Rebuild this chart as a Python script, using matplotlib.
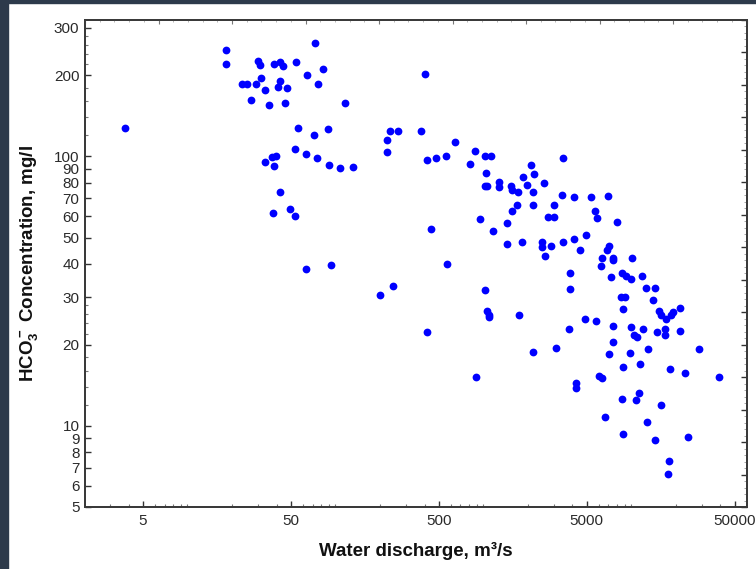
import matplotlib
matplotlib.use("Agg")
import matplotlib.pyplot as plt
from matplotlib.patches import Rectangle
from matplotlib.ticker import FixedLocator, FixedFormatter, NullFormatter

plt.rcParams['font.family'] = ['Liberation Sans', 'DejaVu Sans']
plt.rcParams['mathtext.default'] = 'regular'

# Water discharge (m3/s) and HCO3- concentration (mg/l)
discharge = [
    3.8, 18.2, 18.2, 23.5, 25.2, 29.1, 27.0, 30, 31, 31.5, 33.3, 35.3, 38.5, 42.5, 44.4,
    42.5, 40.8, 46.7, 45.9, 54.2, 64.4, 73.3, 82.2, 76.4, 116, 55.7, 71.8, 88.8, 53.2,
    63.1, 75, 90.2, 107, 132, 33.3, 37.2, 39.5, 38.7, 41.9, 38.1, 49.4, 53.2, 63.1, 93.5,
    403, 232, 263, 224, 224, 379, 418, 478, 556, 647, 875, 809, 1023, 1123, 1048, 1023,
    1062, 1268, 1268, 1531, 1571, 1717, 1857, 1965, 2091, 2191, 2158, 2561, 1690, 2158,
    1563, 2979, 946, 1437, 1157, 2723, 2979, 3390, 4111, 5326, 6940, 3476, 5640, 5878,
    7943, 4955, 4111, 4488, 3457, 2853, 2470, 2470, 2617, 1829, 1452, 565, 443, 246,
    1019, 3855, 3855, 7099, 6838, 6325, 6195, 7510, 7510, 10150, 8590, 9150, 9930, 7250,
    11790, 12480, 14500, 199, 418, 888, 1050, 1085, 1099, 1727, 2149, 3090, 3800, 4195,
    4195, 4875, 5750, 6030, 6350, 6620, 7100, 7510, 7510, 8590, 8770, 8770, 9780, 8770,
    8550, 9100, 9980, 10450, 10960, 11370, 10740, 11190, 12030, 13960, 13040, 12760,
    14500, 14800, 15770, 15270, 15950, 16900, 16900, 17150, 18540, 19130, 18250, 17870,
    17600, 21230, 21230, 22950, 24190, 28730, 38880,
]
hco3 = [
    127, 249, 220, 185, 185, 185, 162, 227, 219, 195, 177, 155, 220, 225, 216,
    191, 181, 179, 158, 225, 201, 263, 211, 186, 158, 127, 120, 126, 107,
    102, 99, 93, 90.3, 91.2, 95, 99.6, 100, 92, 73.5, 61.5, 64, 59.9, 38.3, 39.5,
    203, 124.5, 124.5, 115, 103.5, 124.5, 97.3, 99, 100, 113, 105, 94, 100, 100.5, 86.5, 77.4,
    77.4, 80.7, 77.3, 77.7, 75, 73.5, 84.1, 78.3, 93, 85.8, 74.1, 79.6, 66.2, 66.2,
    63, 66.2, 58.5, 56.6, 52.7, 59.6, 59.6, 71.9, 70.5, 70.5, 71.1, 99, 63, 59,
    57.3, 51.3, 49.5, 45.1, 48.0, 46.4, 48.1, 46.2, 42.8, 48.1, 47.5, 39.8, 53.8, 33.1,
    32.0, 37.0, 32.1, 46.7, 44.8, 42.0, 39.2, 42.0, 41.2, 42.0, 37.0, 36.1, 35.2, 35.6,
    35.9, 32.4, 32.4, 30.5, 22.3, 15.2, 26.7, 25.9, 25.4, 25.7, 18.8, 19.5, 22.9, 14.4,
    13.8, 24.9, 24.5, 15.3, 15.1, 10.8, 18.5, 23.5, 20.5, 12.6, 9.31, 16.6, 18.7, 27.1,
    30.1, 30.1, 23.3, 21.7, 21.4, 16.9, 12.5, 13.2, 22.9, 29.3, 19.3, 10.3,
    8.85, 22.3, 11.97, 26.7, 25.9, 22.8, 21.7, 24.9, 25.9, 26.4, 16.2, 7.42,
    6.62, 27.4, 22.5, 15.7, 9.13, 19.3, 15.2,
]

x_ticks = [5, 50, 500, 5000, 50000]
x_ticklabels = ["5", "50", "500", "5000", "50000"]
y_ticks = [5, 6, 7, 8, 9, 10, 20, 30, 40, 50, 60, 70, 80, 90, 100, 200, 300]
y_ticklabels = [str(v) for v in y_ticks]

W, H = 756, 569
fig = plt.figure(figsize=(W / 100, H / 100), dpi=100)
fig.patch.set_facecolor('white')

# dark frame strips (left and top)
frame_col = '#2d3a4b'
fig.patches.append(Rectangle((0, 0), 8 / W, 1, transform=fig.transFigure,
                             color=frame_col, zorder=0))
fig.patches.append(Rectangle((0, 1 - 3 / H), 1, 3 / H, transform=fig.transFigure,
                             color=frame_col, zorder=0))

left, right = 85 / W, 746.5 / W
bottom, top = (H - 507) / H, (H - 20) / H
ax = fig.add_axes([left, bottom, right - left, top - bottom])

ax.plot(discharge, hco3, 'o', color='#0000ff', ms=5.6, mew=0, zorder=3)

ax.set_xscale('log')
ax.set_yscale('log')
ax.set_xlim(2.03, 60000)
ax.set_ylim(5, 321)

tick_col = '#333333'
ax.xaxis.set_major_locator(FixedLocator(x_ticks))
ax.xaxis.set_major_formatter(FixedFormatter(x_ticklabels))
xminor = [m * 10.0 ** e for e in range(0, 5) for m in (1, 2, 3, 4, 6, 7, 8, 9)]
ax.xaxis.set_minor_locator(FixedLocator([v for v in xminor if 2.03 < v < 60000]))
ax.xaxis.set_minor_formatter(NullFormatter())

ax.yaxis.set_major_locator(FixedLocator(y_ticks))
ax.yaxis.set_major_formatter(FixedFormatter(y_ticklabels))
yminor = [12, 14, 16, 18, 22, 24, 26, 28, 120, 140, 160, 180, 220, 240, 260, 280]
ax.yaxis.set_minor_locator(FixedLocator(yminor))
ax.yaxis.set_minor_formatter(NullFormatter())

ax.tick_params(axis='both', which='major', direction='in', length=4, width=1,
               color=tick_col, labelsize=11, labelcolor='#2a2a2a', pad=5)
ax.tick_params(axis='both', which='minor', direction='in', length=2, width=0.8,
               color='#777777')
ax.tick_params(axis='y', which='major', pad=4)

for s in ax.spines.values():
    s.set_color('#3a3a3a')
    s.set_linewidth(1.3)

ax.set_xlabel('Water discharge, m\u00b3/s', fontsize=13.5, fontweight='bold',
              color='#111111', labelpad=10)
ax.set_ylabel('HCO$_3^-$ Concentration, mg/l', fontsize=13.5, fontweight='bold',
              color='#111111', labelpad=10)

# right-hand and top evenly spaced tick marks (no labels)
axr = ax.twinx()
axr.set_ylim(0, 15)
axr.set_yticks(range(16))
axr.set_yticks([i / 5 for i in range(76)], minor=True)
axr.tick_params(axis='y', which='major', direction='in', length=4, width=1,
                color=tick_col, labelright=False)
axr.tick_params(axis='y', which='minor', direction='in', length=2, width=0.6,
                color='#999999')
axt = ax.twiny()
axt.set_xlim(0, 9)
axt.set_xticks(range(10))
axt.set_xticks([i / 5 for i in range(46)], minor=True)
axt.tick_params(axis='x', which='major', direction='in', length=3, width=0.8,
                color='#777777', labeltop=False)
axt.tick_params(axis='x', which='minor', direction='in', length=1.5, width=0.6,
                color='#aaaaaa')
for a in (axr, axt):
    for s in a.spines.values():
        s.set_color('#3a3a3a')
        s.set_linewidth(1.3)

fig.savefig('out.png', dpi=100, facecolor=fig.get_facecolor())
